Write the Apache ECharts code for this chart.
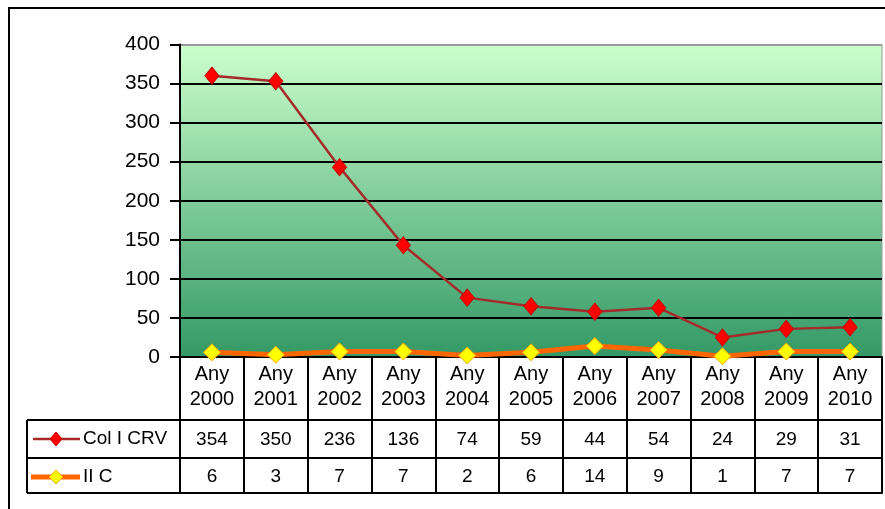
<!DOCTYPE html>
<html><head><meta charset="utf-8">
<script src="https://cdn.jsdelivr.net/npm/echarts@6.0.0/dist/echarts.min.js"></script>
<style>html,body{margin:0;padding:0;background:#fff}#c{width:885px;height:509px}</style>
</head><body><div id="c"></div>
<script>
// ---- data ----
const categories = ['Any\n2000','Any\n2001','Any\n2002','Any\n2003','Any\n2004','Any\n2005','Any\n2006','Any\n2007','Any\n2008','Any\n2009','Any\n2010'];
const crvValues = [354, 350, 236, 136, 74, 59, 44, 54, 24, 29, 31];
const iicValues = [6, 3, 7, 7, 2, 6, 14, 9, 1, 7, 7];
const seriesNames = ['Col I CRV', 'II C'];
const yMin = 0, yMax = 400, yStep = 50;

// ---- layout / style ----
const FONT = 'Liberation Sans';
const crvLine = '#a52a2a', crvMark = '#ff0000';
const iicLine = '#ff6600', iicMark = '#ffff00';
const gridL = 180, gridR = 3, gridT = 44.5, gridB = 152;
const row1 = 420, row2 = 458, rowEnd = 493, legL = 27;

const chart = echarts.init(document.getElementById('c'));
const nSplit = (yMax - yMin) / yStep;
const splitColors = [];
for (let i = 0; i <= nSplit; i++) splitColors.push(i === nSplit ? '#999999' : '#000000');

function rowAxis(offset, values, margin) {
  return {
    type: 'category', data: categories, position: 'bottom', offset: offset,
    axisLine: { show: true, lineStyle: { color: '#000', width: 2 } },
    axisTick: { show: false },
    axisLabel: values ? {
      show: true, interval: 0, margin: margin, color: '#000', fontFamily: FONT, fontSize: 19,
      formatter: (v, i) => String(values[i])
    } : { show: false },
    splitLine: { show: false }
  };
}

chart.setOption({
  animation: false,
  backgroundColor: '#fff',
  grid: {
    left: gridL, right: gridR, top: gridT, bottom: gridB, show: true,
    borderColor: '#999', borderWidth: 1,
    backgroundColor: new echarts.graphic.LinearGradient(0, 0, 0, 1, [
      { offset: 0, color: '#ccffcc' },
      { offset: 1, color: '#339966' }
    ])
  },
  xAxis: [
    {
      type: 'category', data: categories, position: 'bottom',
      axisLine: { show: true, lineStyle: { color: '#000', width: 2 } },
      axisTick: { show: true, interval: 0, length: rowEnd - 357, lineStyle: { color: '#000', width: 2 } },
      axisLabel: { interval: 0, margin: 5, color: '#000', fontFamily: FONT, fontSize: 20, lineHeight: 25 },
      splitLine: { show: false }
    },
    rowAxis(row1 - 357, crvValues, 10),
    rowAxis(row2 - 357, iicValues, 9),
    rowAxis(rowEnd - 357, null, 0)
  ],
  yAxis: {
    type: 'value', min: yMin, max: yMax, interval: yStep,
    axisLine: { show: true, lineStyle: { color: '#000', width: 2 } },
    axisTick: { show: true, length: 10, lineStyle: { color: '#000', width: 2 } },
    axisLabel: { margin: 20, color: '#000', fontFamily: FONT, fontSize: 21 },
    splitLine: { show: true, lineStyle: { color: splitColors, width: 2 } }
  },
  series: [
    {
      name: seriesNames[1], type: 'line', stack: 'total', data: iicValues,
      symbol: 'diamond', symbolSize: [17, 17],
      lineStyle: { color: iicLine, width: 5 },
      itemStyle: { color: iicMark, borderColor: '#ffa500', borderWidth: 1 },
      z: 3
    },
    {
      name: seriesNames[0], type: 'line', stack: 'total', data: crvValues,
      symbol: 'diamond', symbolSize: [14, 17],
      lineStyle: { color: crvLine, width: 2.5 },
      itemStyle: { color: crvMark, borderColor: '#cc0000', borderWidth: 1 },
      z: 4
    }
  ],
  graphic: [
    // outer frame
    { type: 'rect', shape: { x: 9, y: 8, width: 900, height: 520 }, style: { fill: null, stroke: '#000', lineWidth: 2 }, z: 0, silent: true },
    // legend column of data table
    { type: 'line', shape: { x1: legL, y1: row1, x2: gridL, y2: row1 }, style: { stroke: '#000', lineWidth: 2 } },
    { type: 'line', shape: { x1: legL, y1: row2, x2: gridL, y2: row2 }, style: { stroke: '#000', lineWidth: 2 } },
    { type: 'line', shape: { x1: legL, y1: rowEnd, x2: gridL, y2: rowEnd }, style: { stroke: '#000', lineWidth: 2 } },
    { type: 'line', shape: { x1: legL, y1: row1, x2: legL, y2: rowEnd }, style: { stroke: '#000', lineWidth: 2 } },
    // legend keys
    { type: 'line', shape: { x1: 33, y1: 439, x2: 80, y2: 439 }, style: { stroke: crvLine, lineWidth: 2.5 } },
    { type: 'polygon', shape: { points: [[56, 432], [62, 439], [56, 446], [50, 439]] }, style: { fill: crvMark, stroke: '#cc0000' } },
    { type: 'text', style: { x: 83, y: 439, text: seriesNames[0], fill: '#000', font: '19px ' + FONT, verticalAlign: 'middle' } },
    { type: 'line', shape: { x1: 31, y1: 477, x2: 80, y2: 477 }, style: { stroke: iicLine, lineWidth: 5 } },
    { type: 'polygon', shape: { points: [[56, 470], [63, 477], [56, 484], [49, 477]] }, style: { fill: iicMark, stroke: '#ffa500' } },
    { type: 'text', style: { x: 83, y: 477, text: seriesNames[1], fill: '#000', font: '19px ' + FONT, verticalAlign: 'middle' } }
  ]
});
</script>
</body></html>
